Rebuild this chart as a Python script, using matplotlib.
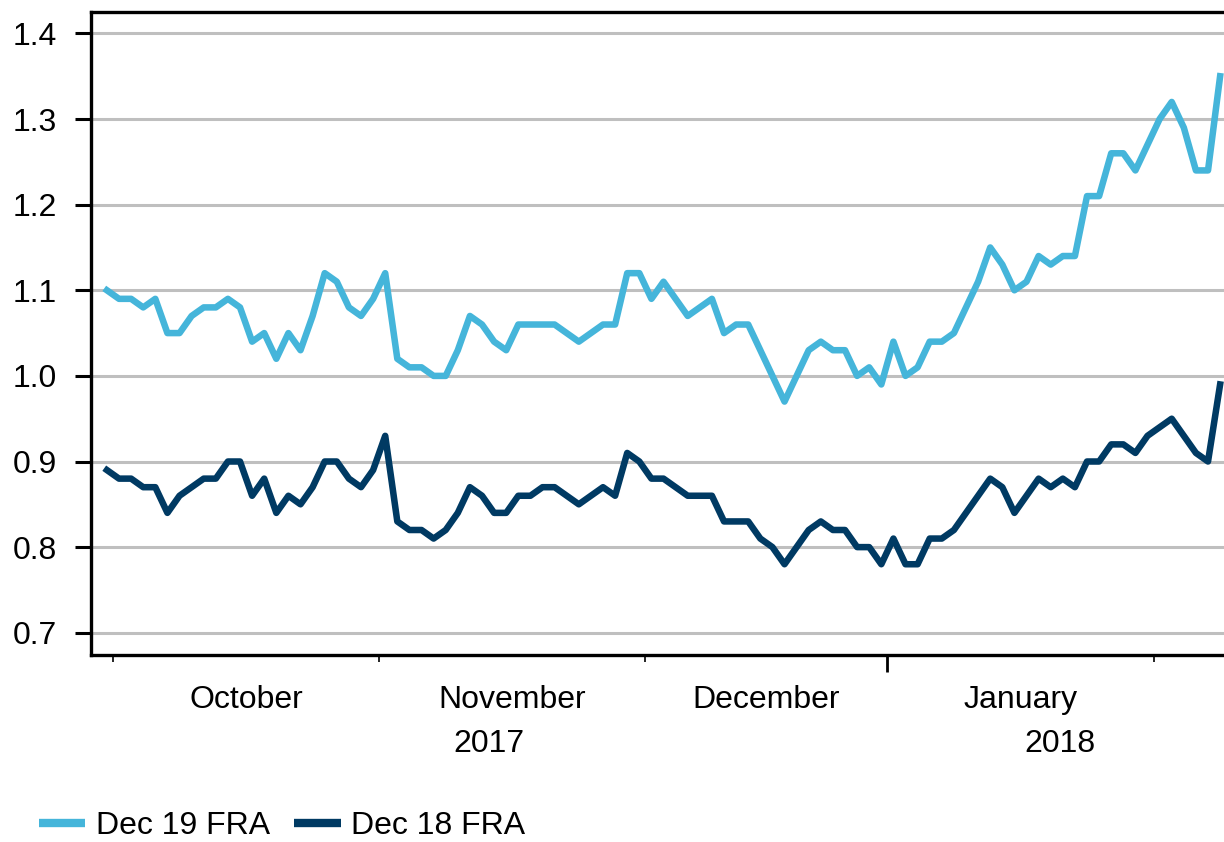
import numpy as np
import pandas as pd
import matplotlib
matplotlib.use('Agg')
import matplotlib.pyplot as plt
import matplotlib.transforms as mtransforms

plt.rcParams['font.family'] = ['Liberation Sans', 'DejaVu Sans']

# business days, Sep 29 2017 - Feb 8 2018
dates = pd.bdate_range('2017-09-29', '2018-02-08', freq='C',
                       holidays=['2017-12-25', '2018-01-01'])

dec19 = [1.10,
         1.09, 1.09, 1.08, 1.09, 1.05, 1.05, 1.07, 1.08, 1.08, 1.09, 1.08,
         1.04, 1.05, 1.02, 1.05, 1.03, 1.07, 1.12, 1.11, 1.08, 1.07, 1.09,
         1.12, 1.02, 1.01, 1.01, 1.00, 1.00, 1.03, 1.07, 1.06, 1.04, 1.03,
         1.06, 1.06, 1.06, 1.06, 1.05, 1.04, 1.05, 1.06, 1.06, 1.12, 1.12,
         1.09, 1.11, 1.09, 1.07, 1.08, 1.09, 1.05, 1.06, 1.06, 1.03, 1.00,
         0.97, 1.00, 1.03, 1.04, 1.03, 1.03, 1.00, 1.01, 0.99,
         1.04, 1.00, 1.01, 1.04, 1.04, 1.05, 1.08, 1.11, 1.15, 1.13, 1.10,
         1.11, 1.14, 1.13, 1.14, 1.14, 1.21, 1.21, 1.26, 1.26, 1.24, 1.27,
         1.30, 1.32, 1.29, 1.24, 1.24, 1.35]

dec18 = [0.89,
         0.88, 0.88, 0.87, 0.87, 0.84, 0.86, 0.87, 0.88, 0.88, 0.90, 0.90,
         0.86, 0.88, 0.84, 0.86, 0.85, 0.87, 0.90, 0.90, 0.88, 0.87, 0.89,
         0.93, 0.83, 0.82, 0.82, 0.81, 0.82, 0.84, 0.87, 0.86, 0.84, 0.84,
         0.86, 0.86, 0.87, 0.87, 0.86, 0.85, 0.86, 0.87, 0.86, 0.91, 0.90,
         0.88, 0.88, 0.87, 0.86, 0.86, 0.86, 0.83, 0.83, 0.83, 0.81, 0.80,
         0.78, 0.80, 0.82, 0.83, 0.82, 0.82, 0.80, 0.80, 0.78,
         0.81, 0.78, 0.78, 0.81, 0.81, 0.82, 0.84, 0.86, 0.88, 0.87, 0.84,
         0.86, 0.88, 0.87, 0.88, 0.87, 0.90, 0.90, 0.92, 0.92, 0.91, 0.93,
         0.94, 0.95, 0.93, 0.91, 0.90, 0.99]

series_names = ['Dec 19 FRA', 'Dec 18 FRA']
colors = ['#45B5DA', '#003A63']
y_ticks = [0.7, 0.8, 0.9, 1.0, 1.1, 1.2, 1.3, 1.4]

x = np.arange(len(dates))

fig = plt.figure(figsize=(12.24, 8.42), dpi=100)
ax = fig.add_axes([0.0743, 0.2221, 0.9334, 0.7631])

ax.plot(x, dec19, color=colors[0], lw=4.7, label=series_names[0])
ax.plot(x, dec18, color=colors[1], lw=4.7, label=series_names[1])

ax.set_xlim(-1.32, 93.1)
ax.set_ylim(0.674, 1.4245)

# y axis
ax.set_yticks(y_ticks)
ax.set_yticklabels(['%.1f' % v for v in y_ticks])
ax.yaxis.grid(True, color='#BFBFBF', lw=2.2)
ax.set_axisbelow(True)
ax.tick_params(axis='y', length=11.5, width=2.2, pad=13, labelsize=23)

for s in ['left', 'top', 'bottom']:
    ax.spines[s].set_linewidth(2.4)
ax.spines['right'].set_visible(False)

# month / year boundaries (between business days)
months = dates.to_period('M')
month_bounds = [i - 0.5 for i in range(1, len(dates)) if months[i] != months[i - 1]]
year_bounds = [i - 0.5 for i in range(1, len(dates)) if dates[i].year != dates[i - 1].year]

ax.set_xticks([b for b in month_bounds if b not in year_bounds])
ax.set_xticks(year_bounds, minor=True)
ax.set_xticklabels([])
ax.tick_params(axis='x', which='major', length=5, width=1.2)
ax.tick_params(axis='x', which='minor', length=12, width=2)

trans = mtransforms.blended_transform_factory(ax.transData, ax.transAxes)
for b0, b1 in zip(month_bounds[:-1], month_bounds[1:]):
    name = dates[int(b0 + 0.5)].strftime('%B')
    ax.text((b0 + b1) / 2, -0.0825, name, transform=trans,
            ha='center', va='baseline', fontsize=23)

edges = [ax.get_xlim()[0]] + year_bounds + [ax.get_xlim()[1]]
for k in range(len(edges) - 1):
    yr = dates[int(np.ceil(max(edges[k], 0)))].year
    ax.text((edges[k] + edges[k + 1]) / 2, -0.151, str(yr), transform=trans,
            ha='center', va='baseline', fontsize=23)

leg = fig.legend(loc='center left', bbox_to_anchor=(0.0319, 0.0185), ncol=2,
                 frameon=False, fontsize=23, handlelength=1.45,
                 handletextpad=0.34, columnspacing=0.75, borderpad=0,
                 borderaxespad=0)
for h in leg.get_lines():
    h.set_linewidth(6)
    h.set_solid_capstyle('butt')

fig.savefig('out.png', dpi=100)
